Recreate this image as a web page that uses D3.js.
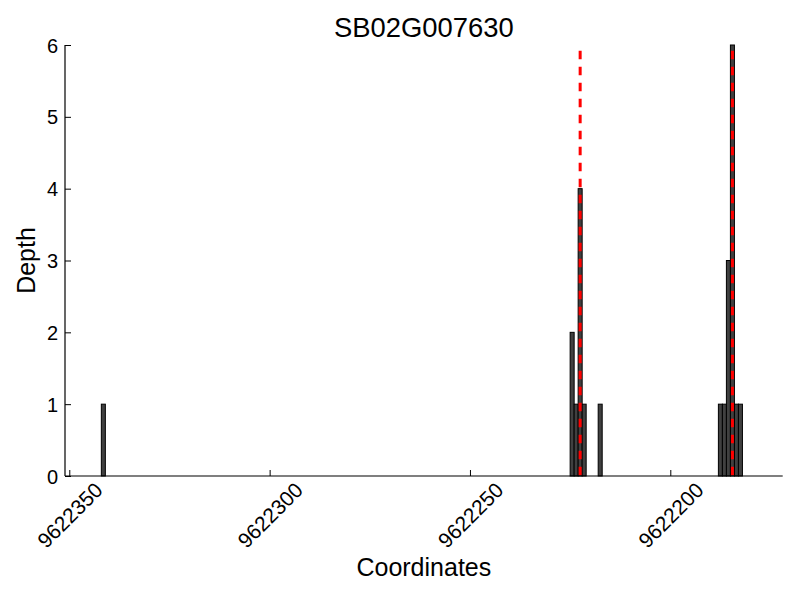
<!DOCTYPE html>
<html><head><meta charset="utf-8">
<script src="https://cdn.jsdelivr.net/npm/d3@7"></script>
<style>body{margin:0;background:#fff}text{font-family:"Liberation Sans",Arial,sans-serif;fill:#000}</style>
</head><body>
<svg id="c" width="800" height="600"></svg>
<script>
const title = "SB02G007630";
const positions = [9622341, 9622224, 9622223, 9622222, 9622221, 9622217, 9622187, 9622186, 9622185, 9622184, 9622183, 9622182];
const depths    = [1, 2, 1, 4, 1, 1, 1, 1, 3, 6, 1, 1];
const markers   = [9622222.5, 9622184.5];
const xTicks    = [9622350, 9622300, 9622250, 9622200];
const yTicks    = [0, 1, 2, 3, 4, 5, 6];

const svg = d3.select("#c");
const L = 65, R = 782.7, T = 45, B = 476;
const x = d3.scaleLinear().domain([9622351.07, 9622171.95]).range([L, R]);
const y = d3.scaleLinear().domain([0, 6]).range([B, T]);

// bars
svg.append("g").selectAll("rect").data(positions).join("rect")
  .attr("x", (d) => x(d + 1))
  .attr("width", (d) => x(d) - x(d + 1))
  .attr("y", (d, i) => y(depths[i]))
  .attr("height", (d, i) => y(0) - y(depths[i]))
  .attr("fill", "#404040").attr("stroke", "#000").attr("stroke-width", 1);

// marker lines
svg.append("g").selectAll("line").data(markers).join("line")
  .attr("x1", (d) => x(d)).attr("x2", (d) => x(d))
  .attr("y1", y(5.92)).attr("y2", y(0))
  .attr("stroke", "#ff0000").attr("stroke-width", 3).attr("stroke-dasharray", "8.5,7.5");

// axes
const xAxis = d3.axisBottom(x).tickValues(xTicks).tickSizeInner(-6).tickSizeOuter(0).tickFormat(d3.format("d"));
const gx = svg.append("g").attr("transform", `translate(0,${B})`).call(xAxis);
gx.select(".domain").attr("stroke", "#000").attr("stroke-width", 1.2).attr("d", `M${L},0H${R}`);
gx.selectAll(".tick line").attr("stroke", "#000");
gx.selectAll(".tick text")
  .attr("font-size", 21).attr("text-anchor", "middle").attr("dominant-baseline", "central")
  .attr("x", 0).attr("y", 0).attr("dy", null)
  .attr("transform", "translate(0,39) rotate(-45)");

const yAxis = d3.axisLeft(y).tickValues(yTicks).tickSizeInner(-6).tickSizeOuter(0).tickFormat(d3.format("d"));
const gy = svg.append("g").attr("transform", `translate(${L},0)`).call(yAxis);
gy.select(".domain").attr("stroke", "#000").attr("stroke-width", 1.2).attr("d", `M0,${B}V${T}`);
gy.selectAll(".tick line").attr("stroke", "#000");
gy.selectAll(".tick text").attr("font-size", 20).attr("x", -7).attr("dy", "0.35em");

// titles
svg.append("text").attr("x", (L + R) / 2).attr("y", 37).attr("text-anchor", "middle").attr("font-size", 27.4).text(title);
svg.append("text").attr("x", (L + R) / 2).attr("y", 576).attr("text-anchor", "middle").attr("font-size", 25).text("Coordinates");
svg.append("text").attr("transform", `translate(35,${(T + B) / 2}) rotate(-90)`).attr("text-anchor", "middle").attr("font-size", 25).text("Depth");
</script>
</body></html>
